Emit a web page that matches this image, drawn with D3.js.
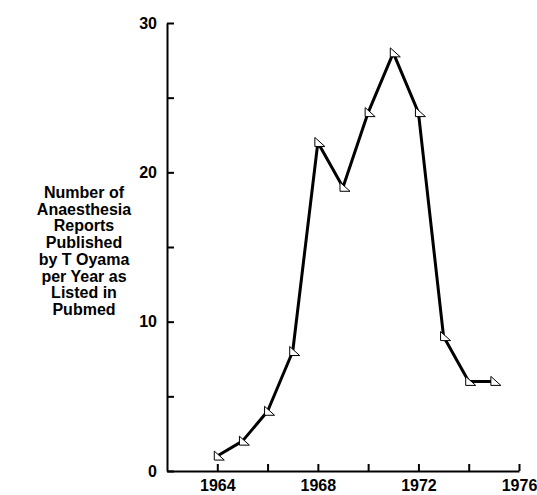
<!DOCTYPE html>
<html>
<head>
<meta charset="utf-8">
<script src="https://cdn.jsdelivr.net/npm/d3@7"></script>
<style>
  body { margin: 0; background: #fff; }
  text { font-family: "Liberation Sans", Arial, sans-serif; font-weight: bold; }
</style>
</head>
<body>
<div id="chart"></div>
<script>
var years = [1964, 1965, 1966, 1967, 1968, 1969, 1970, 1971, 1972, 1973, 1974, 1975];
var reports = [1, 2, 4, 8, 22, 19, 24, 28, 24, 9, 6, 6];
var xTicks = [1964, 1966, 1968, 1970, 1972, 1974, 1976];
var xLabels = [1964, 1968, 1972, 1976];
var yTicks = [0, 5, 10, 15, 20, 25, 30];
var yLabels = [0, 10, 20, 30];
var titleLines = ["Number of", "Anaesthesia", "Reports", "Published", "by T Oyama", "per Year as", "Listed in", "Pubmed"];

var w = 537, h = 495;
var data = years.map(function(y, i) { return {year: y, n: reports[i]}; });

var xScale = d3.scaleLinear().domain([1962, 1976]).range([167, 519]);
var yScale = d3.scaleLinear().domain([0, 30]).range([471, 23]);

var svg = d3.select("#chart").append("svg")
    .attr("width", w)
    .attr("height", h);

var xAxis = d3.axisBottom(xScale)
    .tickValues(xTicks)
    .tickSizeInner(-7)
    .tickSizeOuter(0)
    .tickPadding(9)
    .tickFormat(function(d) { return xLabels.indexOf(d) >= 0 ? d : ""; });

var yAxis = d3.axisLeft(yScale)
    .tickValues(yTicks)
    .tickSizeInner(-7)
    .tickSizeOuter(0)
    .tickPadding(10)
    .tickFormat(function(d) { return yLabels.indexOf(d) >= 0 ? d : ""; });

var gx = svg.append("g")
    .attr("transform", "translate(0," + yScale(0) + ")")
    .call(xAxis);

var gy = svg.append("g")
    .attr("transform", "translate(" + xScale(1962) + ",0)")
    .call(yAxis);

[gx, gy].forEach(function(g) {
    g.select(".domain").attr("stroke", "#000").attr("stroke-width", 2);
    g.selectAll(".tick line").attr("stroke", "#000").attr("stroke-width", 2);
    g.selectAll(".tick text")
        .attr("fill", "#000")
        .style("font-size", "16px")
        .style("font-family", "'Liberation Sans', Arial, sans-serif")
        .style("font-weight", "bold");
});

// y title
svg.append("text")
    .attr("text-anchor", "middle")
    .style("font-size", "16px")
    .selectAll("tspan")
    .data(titleLines)
    .enter().append("tspan")
    .attr("x", 84)
    .attr("y", function(d, i) { return 198 + i * 16.7; })
    .text(function(d) { return d; });

var line = d3.line()
    .x(function(d) { return xScale(d.year); })
    .y(function(d) { return yScale(d.n); });

svg.append("path")
    .datum(data)
    .attr("fill", "none")
    .attr("stroke", "#000")
    .attr("stroke-width", 3)
    .attr("stroke-linejoin", "round")
    .attr("d", line);

svg.selectAll(".marker")
    .data(data)
    .enter().append("path")
    .attr("class", "marker")
    .attr("transform", function(d) { return "translate(" + xScale(d.year) + "," + yScale(d.n) + ")"; })
    .attr("d", "M-3,-5L-3,4L7,4Z")
    .attr("fill", "#fff")
    .attr("stroke", "#000")
    .attr("stroke-width", 1);
</script>
</body>
</html>
